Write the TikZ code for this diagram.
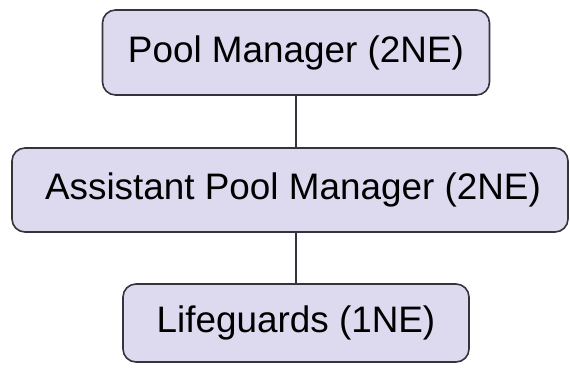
\documentclass[tikz,border=0pt]{standalone}
\usepackage{fontspec}
\setmainfont{Liberation Sans}
\definecolor{boxfill}{RGB}{221,217,239}
\definecolor{boxline}{RGB}{52,52,60}
\begin{document}
\begin{tikzpicture}[x=1bp,y=-1bp,
  rolebox/.style={draw=boxline, fill=boxfill, line width=1.6bp,
    rounded corners=13bp, inner sep=0pt, align=center,
    font=\fontsize{37}{40}\selectfont},
  link/.style={draw=boxline, line width=2bp}]
  \fill[white] (0,0) rectangle (570,367);
  \useasboundingbox (0,0) rectangle (570,367);
  \node[rolebox, minimum width=387bp, minimum height=85bp] (pm) at (296,52.5) {Pool Manager (2NE)};
  \node[rolebox, minimum width=556bp, minimum height=84bp] (apm) at (290,190) {\hspace{6bp}Assistant Pool Manager (2NE)};
  \node[rolebox, minimum width=346bp, minimum height=78bp] (lg) at (296,323) {Lifeguards (1NE)};
  \draw[link] (pm.south) -- (pm.south |- apm.north);
  \draw[link] (lg.north) -- (lg.north |- apm.south);
\end{tikzpicture}
\end{document}
